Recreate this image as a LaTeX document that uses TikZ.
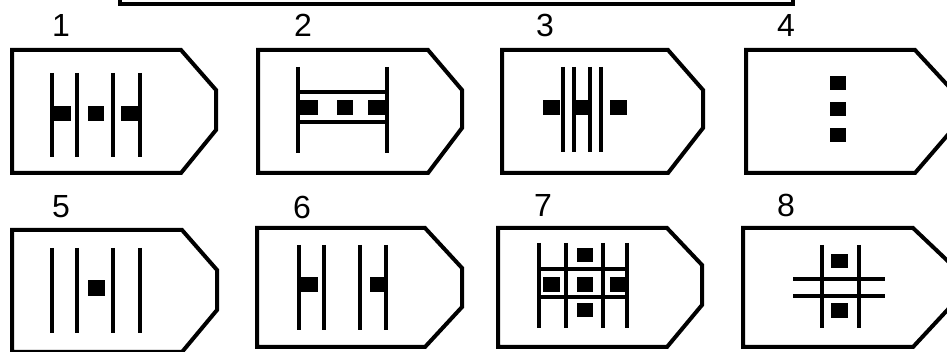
\documentclass[tikz,border=0pt]{standalone}
\usepackage{fontspec}
\setmainfont{Liberation Sans}
\begin{document}
\begin{tikzpicture}[x=0.75pt,y=-0.75pt,
  outl/.style={line width=3pt,line join=miter},
  bar/.style={line width=2.8pt},
  sq/.style={fill=black},
  lbl/.style={font=\fontsize{24}{24}\selectfont,inner sep=0pt}]
\useasboundingbox (0,0) rectangle (947,352);
% top bracket
\draw[outl] (120,-2) -- (120,4) -- (793,4) -- (793,-2);
% tag shapes: left, top, corner x, tip x, tip top, tip bottom, bottom
\newcommand{\tagshp}[7]{\draw[outl] (#1,#2) -- (#3,#2) -- (#4,#5) -- (#4,#6) -- (#3,#7) -- (#1,#7) -- cycle;}
\tagshp{12}{50}{181}{216}{90}{130}{173}
\tagshp{258}{50}{428}{462}{90}{128}{173}
\tagshp{502}{50}{668}{703}{90}{128}{173}
\tagshp{746}{50}{915}{952}{90}{130}{173}
\tagshp{12}{230}{182}{217}{270}{310}{352}
\tagshp{257}{228}{425}{462}{268}{307}{347}
\tagshp{498}{228}{667}{702}{265}{305}{347}
\tagshp{743}{228}{913}{952}{265}{305}{347}
% labels
\node[lbl] (l1) at (61,25) {1};
\node[lbl] (l2) at (303,25) {2};
\node[lbl] (l3) at (545,25) {3};
\node[lbl] (l4) at (786,25) {4};
\node[lbl] (l5) at (61,207) {5};
\node[lbl] (l6) at (302,207) {6};
\node[lbl] (l7) at (543,205) {7};
\node[lbl] (l8) at (786,205) {8};
% 1
\foreach \x in {52,77,113,140} \draw[bar] (\x,73) -- (\x,157);
\fill[sq] (53,106) rectangle (71,121);
\fill[sq] (88,106) rectangle (104,121);
\fill[sq] (121,106) rectangle (139,121);
% 2
\foreach \x in {298,387} \draw[bar] (\x,67) -- (\x,153);
\foreach \y in {92,122} \draw[bar] (298,\y) -- (387,\y);
\fill[sq] (299,100) rectangle (318,115);
\fill[sq] (337,100) rectangle (353,115);
\fill[sq] (368,100) rectangle (386,115);
% 3
\foreach \x in {563,574,590,601} \draw[bar] (\x,67) -- (\x,152);
\fill[sq] (543,100) rectangle (560,115);
\fill[sq] (574,100) rectangle (590,115);
\fill[sq] (610,100) rectangle (627,115);
% 4
\fill[sq] (830,76) rectangle (846,90);
\fill[sq] (830,102) rectangle (846,116);
\fill[sq] (830,128) rectangle (846,142);
% 5
\foreach \x in {52,77,113,140} \draw[bar] (\x,248) -- (\x,333);
\fill[sq] (88,280) rectangle (105,296);
% 6
\foreach \x in {299,324,360,386} \draw[bar] (\x,245) -- (\x,330);
\fill[sq] (300,277) rectangle (318,292);
\fill[sq] (370,277) rectangle (386,292);
% 7
\foreach \x in {539,566,603,627} \draw[bar] (\x,243) -- (\x,328);
\foreach \y in {269,297} \draw[bar] (539,\y) -- (627,\y);
\fill[sq] (577,248) rectangle (593,262);
\fill[sq] (577,277) rectangle (593,292);
\fill[sq] (577,303) rectangle (593,317);
\fill[sq] (543,277) rectangle (560,292);
\fill[sq] (610,277) rectangle (626,292);
% 8
\foreach \x in {822,859} \draw[bar] (\x,245) -- (\x,328);
\foreach \y in {279,296} \draw[bar] (793,\y) -- (885,\y);
\fill[sq] (831,254) rectangle (848,268);
\fill[sq] (831,303) rectangle (848,318);
\end{tikzpicture}
\end{document}
